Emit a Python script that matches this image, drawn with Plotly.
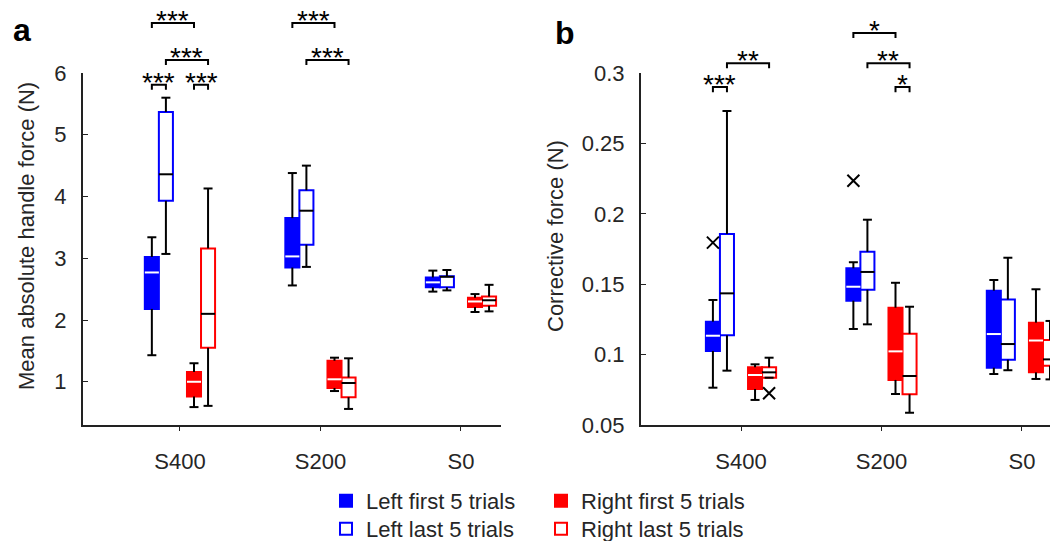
import plotly.graph_objects as go

categories = ["S400", "S200", "S0"]
cat_pos = [1, 2, 3]

# Box statistics per category: [lower whisker, Q1, median, Q3, upper whisker]
force_left_first = [[1.43, 2.18, 2.77, 3.02, 3.34], [2.56, 2.85, 3.03, 3.65, 4.38], [2.46, 2.53, 2.61, 2.69, 2.80]]
force_left_last = [[3.07, 3.93, 4.36, 5.37, 5.60], [2.86, 3.22, 3.77, 4.10, 4.50], [2.48, 2.53, 2.70, 2.71, 2.81]]
force_right_first = [[0.59, 0.76, 1.00, 1.16, 1.30], [0.85, 0.90, 1.04, 1.34, 1.39], [2.13, 2.21, 2.30, 2.36, 2.42]]
force_right_last = [[0.61, 1.55, 2.10, 3.16, 4.13], [0.56, 0.75, 0.98, 1.07, 1.38], [2.14, 2.23, 2.32, 2.38, 2.57]]

corr_left_first = [[0.0765, 0.1026, 0.1134, 0.1234, 0.1388], [0.1182, 0.1383, 0.1482, 0.1613, 0.1656], [0.0862, 0.0907, 0.1146, 0.1454, 0.1530]]
corr_left_last = [[0.0886, 0.1137, 0.1435, 0.1857, 0.2730], [0.1215, 0.1461, 0.1587, 0.1730, 0.1958], [0.0889, 0.0964, 0.1075, 0.1392, 0.1688]]
corr_right_first = [[0.0678, 0.0756, 0.0855, 0.0910, 0.0931], [0.0720, 0.0820, 0.1023, 0.1333, 0.1510], [0.0827, 0.0874, 0.1100, 0.1227, 0.1464]]
corr_right_last = [[0.0836, 0.0836, 0.0874, 0.0910, 0.0978], [0.0587, 0.0718, 0.0848, 0.1148, 0.1340], [0.0824, 0.0921, 0.0966, 0.1104, 0.1239]]

# Outliers per category (None = no outlier)
corr_out_left_first = [0.1795, 0.2235, None]
corr_out_right_last = [0.0725, None, None]

force_ticks = [1, 2, 3, 4, 5, 6]
corr_ticks = [0.05, 0.1, 0.15, 0.2, 0.25, 0.3]

group_names = ["Left first 5 trials", "Left last 5 trials", "Right first 5 trials", "Right last 5 trials"]

# Significance brackets: (category index, group a, group b, level, label)
force_sig = [(0, 0, 2, 6.81, "***"), (0, 1, 3, 6.21, "***"), (0, 0, 1, 5.81, "***"),
             (0, 2, 3, 5.81, "***"), (1, 0, 2, 6.81, "***"), (1, 1, 3, 6.21, "***")]
corr_sig = [(0, 0, 1, 0.290, "***"), (0, 1, 3, 0.307, "**"), (1, 0, 2, 0.3284, "*"),
            (1, 1, 3, 0.307, "**"), (1, 2, 3, 0.290, "*")]

# ---- styling / layout constants ----
W, H = 1050, 541
BLUE, RED = "#0000FF", "#FF0000"
TXT = "#262626"
FONT = "Liberation Sans, Arial, sans-serif"
offsets = [-0.2, -0.1, 0.1, 0.2]
fills = [BLUE, "white", RED, "white"]
lines = [BLUE, BLUE, RED, RED]
med_colors = ["white", "black", "white", "black"]
BOX_W = 0.1
CAP = 0.032

y_dom = [1 - 425 / H, 1 - 73 / H]
over_dom = [1 - 425 / H, 1.0]
a_xdom = [83 / W, 501 / W]
b_xdom = [641 / W, 1.0]
a_xrange = [0.31, 3.285]
b_xrange = [0.288, 3.2]
a_yrange = [0.3, 6.0]
b_yrange = [0.05, 0.3]
scale_over = (425 / 352)
a_over = [a_yrange[0], a_yrange[0] + (a_yrange[1] - a_yrange[0]) * scale_over]
b_over = [b_yrange[0], b_yrange[0] + (b_yrange[1] - b_yrange[0]) * scale_over]

fig = go.Figure()


def add_panel(groups, outliers, xa, ya, legend_on):
    for g, stats in enumerate(groups):
        xs = [c + offsets[g] for c in cat_pos]
        # whiskers and caps
        wx, wy = [], []
        for x, s in zip(xs, stats):
            lo, q1, med, q3, hi = s
            wx += [x, x, None, x, x, None, x - CAP, x + CAP, None, x - CAP, x + CAP, None]
            wy += [lo, q1, None, q3, hi, None, lo, lo, None, hi, hi, None]
        fig.add_trace(go.Scatter(x=wx, y=wy, mode="lines", line=dict(color="black", width=2),
                                 showlegend=False, hoverinfo="skip", xaxis=xa, yaxis=ya))
        # box body
        fig.add_trace(go.Bar(x=xs, base=[s[1] for s in stats], y=[s[3] - s[1] for s in stats],
                             width=BOX_W, marker=dict(color=fills[g], line=dict(color=lines[g], width=2)),
                             name=group_names[g], showlegend=legend_on,
                             legend="legend" if g in (0, 2) else "legend2",
                             xaxis=xa, yaxis=ya))
        # median
        mx, my = [], []
        for x, s in zip(xs, stats):
            mx += [x - BOX_W / 2, x + BOX_W / 2, None]
            my += [s[2], s[2], None]
        fig.add_trace(go.Scatter(x=mx, y=my, mode="lines", line=dict(color=med_colors[g], width=2),
                                 showlegend=False, hoverinfo="skip", xaxis=xa, yaxis=ya))
    for g, vals in outliers:
        xs = [c + offsets[g] for c, v in zip(cat_pos, vals) if v is not None]
        ys = [v for v in vals if v is not None]
        fig.add_trace(go.Scatter(x=xs, y=ys, mode="markers",
                                 marker=dict(symbol="x-thin-open", size=12, color="black",
                                             line=dict(color="black", width=2)),
                                 showlegend=False, xaxis=xa, yaxis=ya))


# legend order: left first, right first | left last, right last
add_panel([force_left_first, force_left_last, force_right_first, force_right_last], [], "x", "y", True)
add_panel([corr_left_first, corr_left_last, corr_right_first, corr_right_last],
          [(0, corr_out_left_first), (3, corr_out_right_last)], "x2", "y2", False)

annotations = []


def add_sig(sig, xa, ya, drop):
    bx, by = [], []
    for ci, g1, g2, lvl, lab in sig:
        x1 = cat_pos[ci] + offsets[g1]
        x2 = cat_pos[ci] + offsets[g2]
        bx += [x1, x1, x2, x2, None]
        by += [lvl - drop, lvl, lvl, lvl - drop, None]
        annotations.append(dict(x=(x1 + x2) / 2, y=lvl, xref=xa, yref=ya, text=lab,
                                showarrow=False, xanchor="center", yanchor="bottom", yshift=-15,
                                font=dict(size=28, color="black", family=FONT)))
    fig.add_trace(go.Scatter(x=bx, y=by, mode="lines", line=dict(color="black", width=2),
                             showlegend=False, hoverinfo="skip", xaxis=xa, yaxis=ya))


add_sig(force_sig, "x3", "y3", 0.08)
add_sig(corr_sig, "x4", "y4", 0.0036)

axis_common = dict(showline=True, linecolor="#222222", linewidth=2, showgrid=False, zeroline=False,
                   tickfont=dict(size=22, color=TXT, family=FONT), tickcolor="#222222")

annotations += [
    dict(text="<b>a</b>", x=22 / W, y=1 - 30 / H, xref="paper", yref="paper", showarrow=False,
         xanchor="center", yanchor="middle", font=dict(size=32, color="black", family=FONT)),
    dict(text="<b>b</b>", x=565 / W, y=1 - 33 / H, xref="paper", yref="paper", showarrow=False,
         xanchor="center", yanchor="middle", font=dict(size=32, color="black", family=FONT)),
    dict(text="Mean absolute handle force (N)", x=27 / W, y=1 - 236 / H, xref="paper", yref="paper",
         showarrow=False, textangle=-90, xanchor="center", yanchor="middle",
         font=dict(size=22, color=TXT, family=FONT)),
    dict(text="Corrective force (N)", x=556 / W, y=1 - 236 / H, xref="paper", yref="paper",
         showarrow=False, textangle=-90, xanchor="center", yanchor="middle",
         font=dict(size=22, color=TXT, family=FONT)),
]

legend_common = dict(orientation="h", xanchor="left", yanchor="middle", entrywidth=170,
                     font=dict(size=22, color=TXT, family=FONT), bgcolor="rgba(0,0,0,0)")

fig.update_layout(
    width=W, height=H, margin=dict(l=0, r=0, t=0, b=0, autoexpand=False),
    paper_bgcolor="white", plot_bgcolor="rgba(0,0,0,0)",
    barmode="overlay", font=dict(family=FONT, color=TXT),
    xaxis=dict(domain=a_xdom, range=a_xrange, tickvals=cat_pos, ticktext=categories, ticks="outside",
               ticklen=4, anchor="y", ticklabelstandoff=12, **axis_common),
    yaxis=dict(domain=y_dom, range=a_yrange, tickvals=force_ticks, ticks="inside", ticklen=5,
               anchor="x", ticklabelstandoff=10, **axis_common),
    xaxis2=dict(domain=b_xdom, range=b_xrange, tickvals=cat_pos, ticktext=categories, ticks="outside",
                ticklen=4, anchor="y2", ticklabelstandoff=12, **axis_common),
    yaxis2=dict(domain=y_dom, range=b_yrange, tickvals=corr_ticks, ticks="inside", ticklen=5,
                anchor="x2", ticklabelstandoff=10, **axis_common),
    xaxis3=dict(domain=a_xdom, range=a_xrange, visible=False, anchor="y3"),
    yaxis3=dict(domain=over_dom, range=a_over, visible=False, anchor="x3"),
    xaxis4=dict(domain=b_xdom, range=b_xrange, visible=False, anchor="y4"),
    yaxis4=dict(domain=over_dom, range=b_over, visible=False, anchor="x4"),
    legend=dict(x=326 / W, y=1 - 501 / H, **legend_common),
    legend2=dict(x=326 / W, y=1 - 529 / H, **legend_common),
    annotations=annotations,
    showlegend=True,
)

fig.write_html("out.html", config={"displayModeBar": False},
               post_script="document.body.style.margin='0';document.body.style.overflow='hidden';")
